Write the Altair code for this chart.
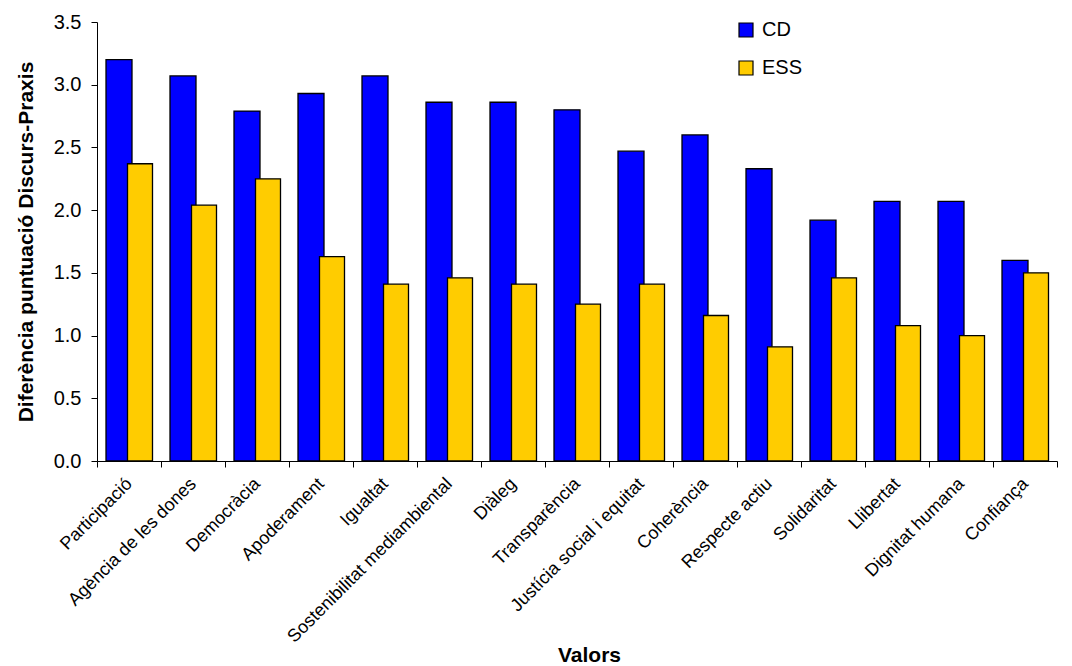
import altair as alt
import pandas as pd

categories = [
    "Participació", "Agència de les dones", "Democràcia", "Apoderament",
    "Igualtat", "Sostenibilitat mediambiental", "Diàleg", "Transparència",
    "Justícia social i equitat", "Coherència", "Respecte actiu", "Solidaritat",
    "Llibertat", "Dignitat humana", "Confiança",
]
cd_values = [3.20, 3.07, 2.79, 2.93, 3.07, 2.86, 2.86, 2.80, 2.47, 2.60, 2.33, 1.92, 2.07, 2.07, 1.60]
ess_values = [2.37, 2.04, 2.25, 1.63, 1.41, 1.46, 1.41, 1.25, 1.41, 1.16, 0.91, 1.46, 1.08, 1.00, 1.50]
series = ["CD", "ESS"]
colors = ["#0000FF", "#FFCC00"]
y_ticks = [0.0, 0.5, 1.0, 1.5, 2.0, 2.5, 3.0, 3.5]

rows = []
for c, v in zip(categories, cd_values):
    rows.append({"Valor": c, "serie": "CD", "value": v})
for c, v in zip(categories, ess_values):
    rows.append({"Valor": c, "serie": "ESS", "value": v})
df = pd.DataFrame(rows)

FONT = "Liberation Sans"

base = alt.Chart(df).encode(
    x=alt.X(
        "Valor:N",
        sort=categories,
        scale=alt.Scale(paddingInner=0, paddingOuter=0),
        axis=alt.Axis(
            title="Valors",
            titleFontSize=21,
            titleFontWeight="bold",
            titleY=194,
            titleX=492,
            titleBaseline="middle",
            labelFontSize=18,
            labelAngle=-45,
            labelAlign="right",
            labelBaseline="middle",
            labelPadding=14,
            labelLimit=400,
            labelOverlap=False,
            tickSize=6,
            tickBand="extent",
            domainColor="black",
            tickColor="black",
            labelColor="black",
            titleColor="black",
        ),
    ),
    y=alt.Y(
        "value:Q",
        scale=alt.Scale(domain=[0, 3.5], nice=False),
        axis=alt.Axis(
            title="Diferència puntuació Discurs-Praxis",
            titleFontSize=21,
            titleFontWeight="bold",
            titlePadding=17,
            labelFontSize=20,
            labelPadding=10,
            tickSize=6,
            values=y_ticks,
            format=".1f",
            grid=False,
            domainColor="black",
            tickColor="black",
            labelColor="black",
            titleColor="black",
        ),
    ),
    color=alt.Color(
        "serie:N",
        scale=alt.Scale(domain=series, range=colors),
        legend=alt.Legend(
            title=None,
            orient="none",
            legendX=639,
            legendY=-2,
            symbolType="square",
            symbolSize=196,
            symbolStrokeColor="black",
            symbolStrokeWidth=1.2,
            symbolOpacity=1,
            labelFontSize=20,
            labelOffset=6,
            rowPadding=18,
            labelColor="black",
        ),
    ),
)

cd_layer = base.transform_filter(alt.datum.serie == "CD").mark_bar(
    width=26, xOffset=-10, stroke="black", strokeWidth=1.3, opacity=1
)
ess_layer = base.transform_filter(alt.datum.serie == "ESS").mark_bar(
    width=25, xOffset=11, stroke="black", strokeWidth=1.3, opacity=1
)

chart = (
    alt.layer(cd_layer, ess_layer)
    .properties(width=960, height=439, padding={"left": 7, "top": 4, "right": 2, "bottom": 0})
    .configure(font=FONT)
    .configure_view(stroke=None)
    .configure_axis(grid=False)
)

chart.save("out.html", embed_options={"renderer": "svg", "actions": False})
